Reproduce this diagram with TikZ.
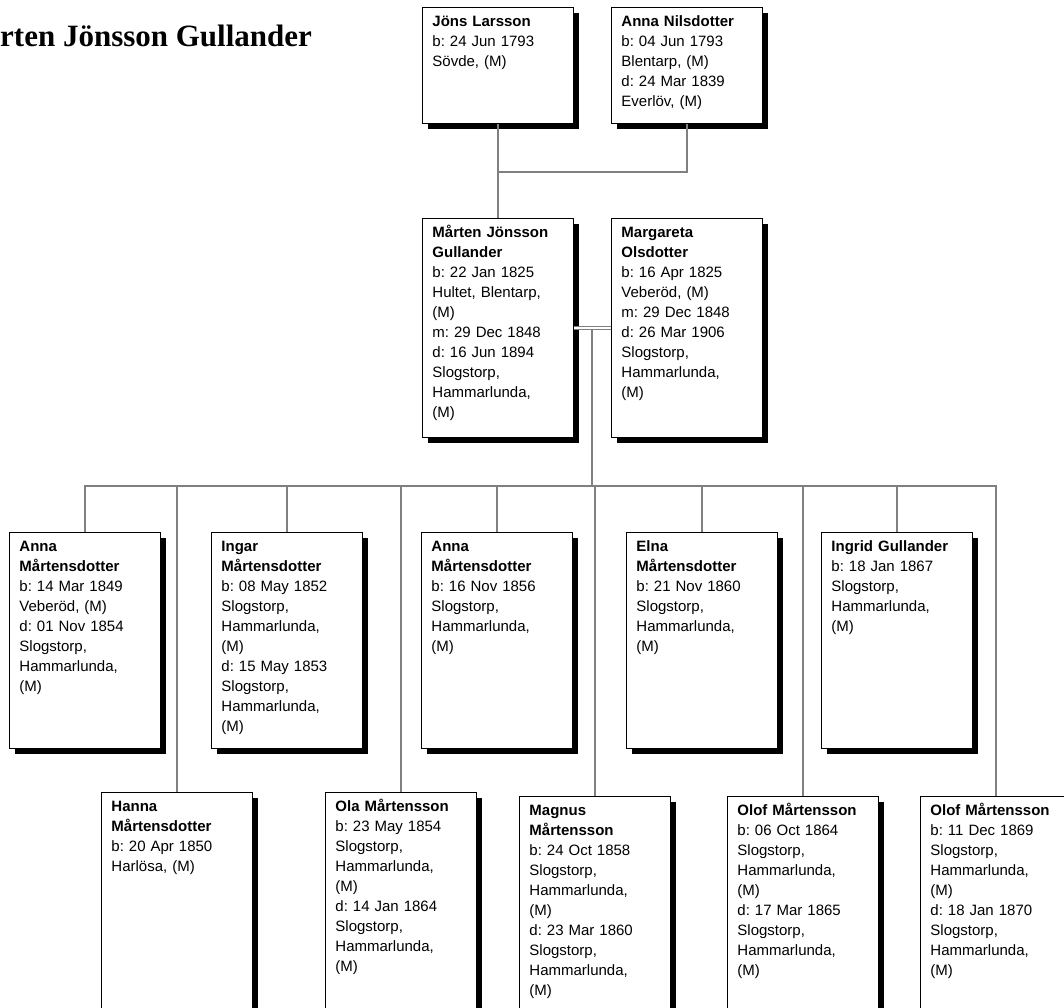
\documentclass[tikz,border=0pt]{standalone}
\usepackage{fontspec}
\setmainfont{Liberation Serif}
\setsansfont{Liberation Sans}
\usetikzlibrary{shadows}
\frenchspacing

\begin{document}
\begin{tikzpicture}[x=1pt, y=-1pt,
    person/.style={rectangle, draw, fill=white, anchor=north west, line width=0.9pt,
      inner xsep=10pt, inner ysep=3pt, text width=131pt, align=left,
      text height=16pt, text depth=#1,
      font=\sffamily\fontsize{15}{20}\selectfont,
      drop shadow={shadow xshift=5.5pt, shadow yshift=-5.5pt, opacity=1, fill=black}},
    link/.style={draw=gray, line width=1.2pt}]
    \useasboundingbox (0,0) rectangle (1064,1007);

    \node at (0,46) [anchor=base west, inner sep=0pt, font=\bfseries\fontsize{31}{36}\selectfont] (title) {rten Jönsson Gullander};

    % grandparents
    \node at (422,7) [person=94pt] (jons) {\textbf{Jöns Larsson}\\ b: 24 Jun 1793\\ Sövde, (M)};
    \node at (611,7) [person=94pt] (annan) {\textbf{Anna Nilsdotter}\\ b: 04 Jun 1793\\ Blentarp, (M)\\ d: 24 Mar 1839\\ Everlöv, (M)};

    % couple
    \node at (422,218) [person=197pt] (marten) {\textbf{Mårten Jönsson}\\ \textbf{Gullander}\\ b: 22 Jan 1825\\ Hultet, Blentarp,\\ (M)\\ m: 29 Dec 1848\\ d: 16 Jun 1894\\ Slogstorp,\\ Hammarlunda,\\ (M)};
    \node at (611,218) [person=197pt] (margareta) {\textbf{Margareta}\\ \textbf{Olsdotter}\\ b: 16 Apr 1825\\ Veberöd, (M)\\ m: 29 Dec 1848\\ d: 26 Mar 1906\\ Slogstorp,\\ Hammarlunda,\\ (M)};

    % children, upper row
    \node at (9,532) [person=194pt] (anna1) {\textbf{Anna}\\ \textbf{Mårtensdotter}\\ b: 14 Mar 1849\\ Veberöd, (M)\\ d: 01 Nov 1854\\ Slogstorp,\\ Hammarlunda,\\ (M)};
    \node at (211,532) [person=194pt] (ingar) {\textbf{Ingar}\\ \textbf{Mårtensdotter}\\ b: 08 May 1852\\ Slogstorp,\\ Hammarlunda,\\ (M)\\ d: 15 May 1853\\ Slogstorp,\\ Hammarlunda,\\ (M)};
    \node at (421,532) [person=194pt] (anna2) {\textbf{Anna}\\ \textbf{Mårtensdotter}\\ b: 16 Nov 1856\\ Slogstorp,\\ Hammarlunda,\\ (M)};
    \node at (626,532) [person=194pt] (elna) {\textbf{Elna}\\ \textbf{Mårtensdotter}\\ b: 21 Nov 1860\\ Slogstorp,\\ Hammarlunda,\\ (M)};
    \node at (821,532) [person=194pt] (ingrid) {\textbf{Ingrid Gullander}\\ b: 18 Jan 1867\\ Slogstorp,\\ Hammarlunda,\\ (M)};

    % children, lower row
    \node at (101,792) [person=194pt] (hanna) {\textbf{Hanna}\\ \textbf{Mårtensdotter}\\ b: 20 Apr 1850\\ Harlösa, (M)};
    \node at (325,792) [person=194pt] (ola) {\textbf{Ola Mårtensson}\\ b: 23 May 1854\\ Slogstorp,\\ Hammarlunda,\\ (M)\\ d: 14 Jan 1864\\ Slogstorp,\\ Hammarlunda,\\ (M)};
    \node at (519,796) [person=194pt] (magnus) {\textbf{Magnus}\\ \textbf{Mårtensson}\\ b: 24 Oct 1858\\ Slogstorp,\\ Hammarlunda,\\ (M)\\ d: 23 Mar 1860\\ Slogstorp,\\ Hammarlunda,\\ (M)};
    \node at (727,796) [person=194pt] (olof1) {\textbf{Olof Mårtensson}\\ b: 06 Oct 1864\\ Slogstorp,\\ Hammarlunda,\\ (M)\\ d: 17 Mar 1865\\ Slogstorp,\\ Hammarlunda,\\ (M)};
    \node at (920,796) [person=194pt] (olof2) {\textbf{Olof Mårtensson}\\ b: 11 Dec 1869\\ Slogstorp,\\ Hammarlunda,\\ (M)\\ d: 18 Jan 1870\\ Slogstorp,\\ Hammarlunda,\\ (M)};

    % connectors
    \coordinate (topjoin) at (497.5,172);
    \coordinate (wed) at (592,329);
    \coordinate (bar) at (0,486);

    \draw[link] (jons.south) -- (marten.north);
    \draw[link] (annan.south) |- (topjoin);
    \draw[link, line width=0.8pt, double, double distance=2pt] (marten.east) -- (margareta.west);
    \draw[link] (wed) -- (wed |- bar);
    \draw[link] (anna1.north) |- (olof2.north |- bar) -- (olof2.north);
    \foreach \kid in {ingar, anna2, elna, ingrid, hanna, ola, magnus, olof1}
        \draw[link] (\kid.north) -- (\kid.north |- bar);
\end{tikzpicture}
\end{document}
